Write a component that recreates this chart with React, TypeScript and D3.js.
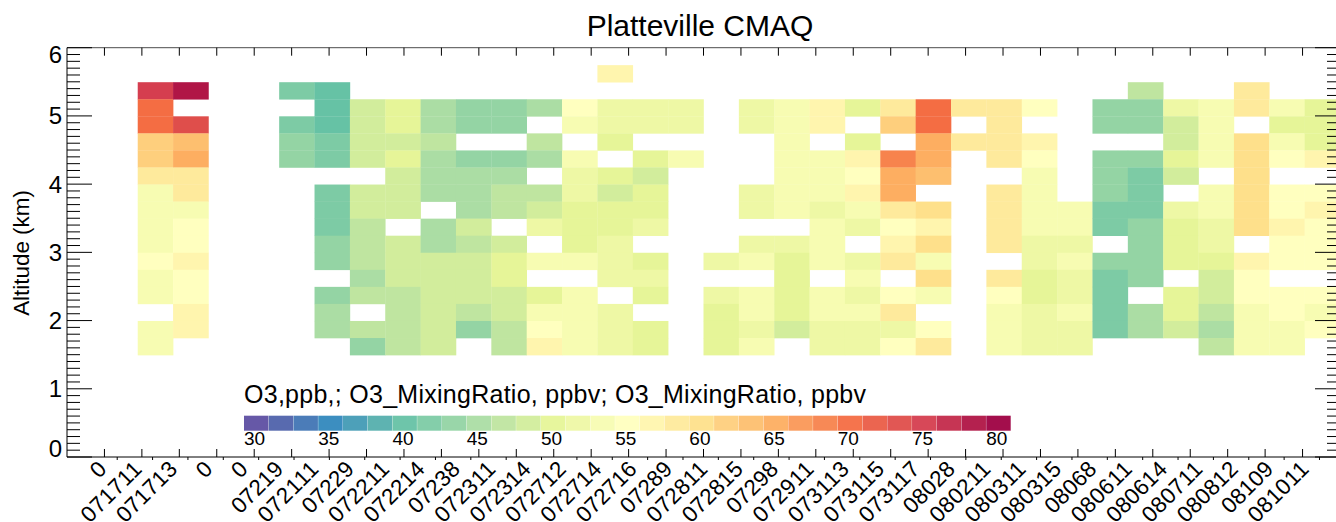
import React from "react";
import * as d3 from "d3";

const _ = null;
const title = "Platteville CMAQ";
const yLabel = "Altitude (km)";
const legendTitle = "O3,ppb,; O3_MixingRatio, ppbv; O3_MixingRatio, ppbv";
const yMajorTicks = [0, 1, 2, 3, 4, 5, 6];
const colorbarTicks = [30, 35, 40, 45, 50, 55, 60, 65, 70, 75, 80];
const spectralStops = ["#5e4fa2", "#3288bd", "#66c2a5", "#abdda4", "#e6f598", "#ffffbf", "#fee08b", "#fdae61", "#f46d43", "#d53e4f", "#9e0142"];
const xLabels = ["0", "071711", "071713", "0", "0", "07219", "072111", "07229", "072211", "072214", "07238", "072311", "072314", "072712", "072714", "072716", "07289", "072811", "072815", "07298", "072911", "073113", "073115", "073117", "08028", "080211", "080311", "080315", "08068", "080611", "080614", "080711", "080812", "08109", "081011"];
// top edge of each altitude row, km
const rowTops = [5.75, 5.5, 5.25, 5, 4.75, 4.5, 4.25, 4, 3.75, 3.5, 3.25, 3, 2.75, 2.5, 2.25, 2, 1.75];
// O3 (ppb), one array per time column, top row first
const o3Columns: (number | null)[][] = [
  [_, 75.8, 70.8, 70.8, 62.5, 62.5, 59.2, 54.2, 54.2, 54.2, 54.2, 55.8, 54.2, 54.2, _, 54.2, 54.2],
  [_, 79.2, _, 74.2, 64.2, 65.8, 59.2, 59.2, 54.2, 55.8, 55.8, 57.5, 55.8, 55.8, 57.5, 57.5, _],
  [_, _, _, _, _, _, _, _, _, _, _, _, _, _, _, _, _],
  [_, _, _, _, _, _, _, _, _, _, _, _, _, _, _, _, _],
  [_, 42.5, _, 42.5, 44.2, 44.2, _, _, _, _, _, _, _, _, _, _, _],
  [_, 40.8, 40.8, 40.8, 42.5, 42.5, _, 42.5, 42.5, 42.5, 44.2, 44.2, _, 44.2, 45.8, 45.8, _],
  [_, _, 49.2, 49.2, 49.2, 49.2, _, 49.2, 49.2, 47.5, 47.5, 47.5, 45.8, 47.5, _, 47.5, 44.2],
  [_, _, 50.8, 50.8, 49.2, 50.8, 49.2, 49.2, 49.2, _, 49.2, 49.2, 49.2, 47.5, 47.5, 47.5, 47.5],
  [_, _, 45.8, 45.8, 47.5, 45.8, 45.8, 45.8, _, 45.8, 45.8, 49.2, 49.2, 49.2, 49.2, 49.2, 49.2],
  [_, _, 44.2, 44.2, _, 44.2, 45.8, 45.8, 45.8, 49.2, 47.5, 49.2, 49.2, 49.2, 47.5, 44.2, _],
  [_, _, 44.2, 44.2, _, 44.2, 45.8, 47.5, 47.5, _, 49.2, 50.8, 50.8, 49.2, 49.2, 47.5, 47.5],
  [_, _, 45.8, _, 47.5, 45.8, _, 47.5, 49.2, 52.5, _, 54.2, _, 50.8, 54.2, 55.8, 57.5],
  [_, _, 55.8, 54.2, _, 54.2, 52.5, 52.5, 50.8, 50.8, 50.8, 54.2, _, 54.2, 54.2, 54.2, 54.2],
  [57.5, _, 52.5, 52.5, 50.8, _, 50.8, 49.2, 50.8, 50.8, 52.5, 52.5, 52.5, _, 52.5, 52.5, 52.5],
  [_, _, 52.5, 52.5, _, 50.8, 49.2, 50.8, 50.8, 52.5, _, 50.8, 52.5, 50.8, _, 50.8, 50.8],
  [_, _, 52.5, 52.5, _, 54.2, _, _, _, _, _, _, _, _, _, _, _],
  [_, _, _, _, _, _, _, _, _, _, _, 52.5, _, 52.5, 50.8, 50.8, 50.8],
  [_, _, 52.5, 52.5, _, _, _, 52.5, 52.5, _, 52.5, 54.2, _, 54.2, 54.2, 52.5, 54.2],
  [_, _, 54.2, 54.2, 54.2, 54.2, 54.2, 54.2, 54.2, _, 52.5, 50.8, 50.8, 50.8, 50.8, 49.2, _],
  [_, _, 57.5, 57.5, _, 54.2, 54.2, 54.2, 52.5, 54.2, 54.2, 54.2, _, 54.2, 54.2, 52.5, 52.5],
  [_, _, 50.8, _, 50.8, 57.5, 55.8, 57.5, 54.2, 52.5, _, 52.5, 54.2, 52.5, 54.2, 52.5, 52.5],
  [_, _, 59.2, 62.5, _, 69.2, 65.8, 65.8, 59.2, 55.8, 57.5, 59.2, _, 55.8, 59.2, 52.5, 55.8],
  [_, _, 70.8, 70.8, 65.8, 65.8, 64.2, _, 60.8, 57.5, 60.8, 54.2, 60.8, 54.2, _, 55.8, 59.2],
  [_, _, 59.2, _, 59.2, _, _, _, _, _, _, _, _, _, _, _, _],
  [_, _, 59.2, 59.2, 59.2, 59.2, _, 59.2, 59.2, 59.2, 59.2, _, 59.2, 55.8, 54.2, 54.2, 54.2],
  [_, _, 55.8, _, 57.5, 55.8, 54.2, 54.2, 54.2, 54.2, 52.5, 52.5, 50.8, 50.8, 52.5, 52.5, 52.5],
  [_, _, _, _, _, _, _, _, 54.2, 54.2, 52.5, 54.2, 52.5, 52.5, 54.2, 52.5, 52.5],
  [_, _, 44.2, 44.2, _, 44.2, 44.2, 44.2, 42.5, 42.5, _, 44.2, 42.5, 42.5, 42.5, 42.5, _],
  [_, 47.5, 44.2, 44.2, _, 44.2, 42.5, 42.5, 42.5, 44.2, 44.2, 44.2, 44.2, _, 45.8, 45.8, _],
  [_, _, 52.5, 49.2, 49.2, 50.8, 49.2, _, 52.5, 50.8, 50.8, 50.8, _, 50.8, 50.8, 49.2, _],
  [_, _, 54.2, 54.2, 54.2, 54.2, _, 54.2, 54.2, 52.5, 52.5, 50.8, 49.2, 49.2, 47.5, 45.8, 47.5],
  [_, 59.2, 59.2, _, 60.8, 60.8, 60.8, 60.8, 60.8, 60.8, _, 57.5, 55.8, 55.8, 54.2, 54.2, 54.2],
  [_, _, 54.2, 50.8, 54.2, 55.8, _, 55.8, 55.8, 57.5, 55.8, 55.8, _, 55.8, 55.8, 54.2, 54.2],
  [_, _, 50.8, 50.8, 50.8, 57.5, _, 55.8, 57.5, 55.8, 55.8, 55.8, _, 55.8, 54.2, 55.8, _],
];

const FONT = "'Liberation Sans', Arial, sans-serif";
const LEFT = 67, RIGHT = 1340, TOP = 47.7, BOTTOM = 457;
const CB_LEVELS = 31;
const CB_STEP = 5 / 3;

const y = d3.scaleLinear().domain([0, 6]).range([BOTTOM, TOP]);
const xCell = d3.scaleLinear().domain([0, 36]).range([LEFT, RIGHT]);
const xMajor = d3.scaleLinear().domain([0, 34]).range([LEFT, RIGHT]);
const palette = d3.quantize(d3.piecewise(d3.interpolateRgb, spectralStops), CB_LEVELS);
const color = d3.scaleQuantize<string>().domain([30, 30 + CB_LEVELS * CB_STEP]).range(palette);
const xCb = d3.scaleLinear().domain([30, 30 + CB_LEVELS * CB_STEP]).range([244, 1011]);

export default function App() {
  const cellH = y(0) - y(0.25);
  const firstCol = 2;
  const labelOffset = 1.42;
  const yMinor = d3.range(0, 61).map((d) => d / 10).filter((d) => d % 1 !== 0);
  return (
    <svg width={1336} height={522} style={{ position: "absolute", left: 0, top: 0, display: "block" }} fontFamily={FONT}>
      <rect width={1336} height={522} fill="#fff" />
      {o3Columns.map((col, c) =>
        col.map((v, r) =>
          v === null ? null : (
            <rect
              key={`${c}-${r}`}
              x={xCell(c + firstCol)}
              y={y(rowTops[r]) + 0.4}
              width={xCell(1) - xCell(0) + 0.3}
              height={cellH + 0.3}
              fill={color(v)}
            />
          )
        )
      )}
      <g stroke="#000" strokeWidth={1} fill="none">
        <line x1={LEFT} x2={RIGHT} y1={BOTTOM} y2={BOTTOM} />
        <line x1={LEFT} x2={RIGHT} y1={TOP} y2={TOP} strokeOpacity={0.7} />
        <line x1={LEFT} x2={LEFT} y1={TOP} y2={BOTTOM} />
        {d3.range(1, 34).map((i) => (
          <g key={i}>
            <line x1={xMajor(i)} x2={xMajor(i)} y1={BOTTOM} y2={BOTTOM - 8} />
            <line x1={xMajor(i)} x2={xMajor(i)} y1={TOP} y2={TOP + 8} />
          </g>
        ))}
        {yMajorTicks.map((t) => (
          <g key={t}>
            <line x1={LEFT} x2={LEFT + 25} y1={y(t)} y2={y(t)} />
            <line x1={RIGHT} x2={RIGHT - 25} y1={y(t)} y2={y(t)} />
          </g>
        ))}
        {yMinor.map((t) => (
          <g key={t}>
            <line x1={LEFT} x2={LEFT + 13} y1={y(t)} y2={y(t)} />
            <line x1={RIGHT} x2={RIGHT - 13} y1={y(t)} y2={y(t)} />
          </g>
        ))}
        {xLabels.map((_l, i) => (
          <line key={i} x1={xCell(labelOffset + i)} x2={xCell(labelOffset + i)} y1={BOTTOM} y2={BOTTOM + 3} />
        ))}
      </g>
      <text x={700} y={36} textAnchor="middle" fontSize={30}>{title}</text>
      <text transform="translate(29,253) rotate(-90)" textAnchor="middle" fontSize={22.4}>{yLabel}</text>
      {yMajorTicks.map((t) => (
        <text key={t} x={62} y={t === 6 ? 62.5 : t === 0 ? 457 : y(t) + 8.5} textAnchor="end" fontSize={24}>{t}</text>
      ))}
      {xLabels.map((l, i) => (
        <text
          key={i}
          transform={`translate(${xCell(labelOffset + i) - 9.5},${BOTTOM + 13.5}) rotate(-45)`}
          textAnchor="end"
          fontSize={22.4}
          textLength={l.length * 12.55}
          lengthAdjust="spacing"
        >
          {l}
        </text>
      ))}
      <text x={244} y={403} fontSize={25} textLength={622} lengthAdjust="spacing">{legendTitle}</text>
      {palette.map((c, i) => (
        <rect
          key={i}
          x={xCb(30 + i * CB_STEP)}
          y={415.7}
          width={xCb(30 + CB_STEP) - xCb(30) - 0.3}
          height={15}
          fill={c}
          fillOpacity={0.95}
        />
      ))}
      {colorbarTicks.map((t) => (
        <text key={t} x={xCb(t)} y={444.5} fontSize={19}>{t}</text>
      ))}
    </svg>
  );
}
